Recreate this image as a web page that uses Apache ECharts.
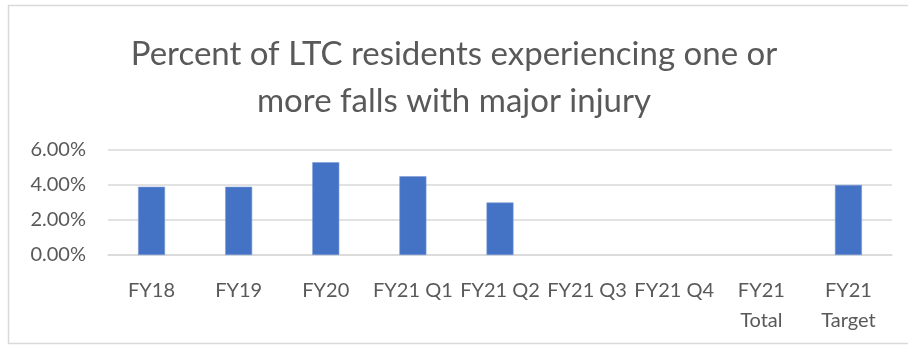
<!DOCTYPE html>
<html>
<head>
<meta charset="utf-8">
<script src="https://cdn.jsdelivr.net/npm/echarts@6/dist/echarts.min.js"></script>
<style>
  html, body { margin: 0; padding: 0; background: #fff; }
  #chart { width: 908px; height: 346px; }
</style>
</head>
<body>
<div id="chart"></div>
<script>
// Fall-injury rate by period (percent of LTC residents)
var categories = ['FY18', 'FY19', 'FY20', 'FY21 Q1', 'FY21 Q2', 'FY21 Q3', 'FY21 Q4', 'FY21\nTotal', 'FY21\nTarget'];
var fallRates = [3.9, 3.9, 5.3, 4.5, 3.0, null, null, null, 4.0];
var yTicks = { min: 0, max: 6, interval: 2 };

var FONT = 'Lato, "Open Sans", sans-serif';
var TEXT = '#595959';

var chart = echarts.init(document.getElementById('chart'), null, { renderer: 'canvas' });
chart.setOption({
  backgroundColor: '#fff',
  animation: false,
  graphic: [{
    type: 'rect',
    shape: { x: 8.5, y: 5.5, width: 920, height: 338 },
    style: { fill: 'none', stroke: '#d9d9d9', lineWidth: 1.5 },
    silent: true
  }],
  title: {
    text: 'Percent of LTC residents experiencing one or\nmore falls with major injury',
    left: 'center',
    top: 26,
    textStyle: { fontFamily: FONT, fontSize: 33, fontWeight: 'normal', color: TEXT, lineHeight: 47 }
  },
  grid: { left: 108, right: 16, top: 150, bottom: 91, containLabel: false },
  xAxis: {
    type: 'category',
    data: categories,
    axisLine: { show: true, lineStyle: { color: '#d9d9d9', width: 1.5 } },
    axisTick: { show: false },
    axisLabel: {
      interval: 0, margin: 21, color: TEXT, fontFamily: FONT, fontSize: 20, lineHeight: 30,
      verticalAlign: 'top'
    }
  },
  yAxis: {
    type: 'value',
    min: yTicks.min, max: yTicks.max, interval: yTicks.interval,
    axisLine: { show: false },
    axisTick: { show: false },
    splitLine: { lineStyle: { color: '#d9d9d9', width: 1.5 } },
    axisLabel: {
      margin: 22, color: TEXT, fontFamily: FONT, fontSize: 20,
      formatter: function (v) { return v.toFixed(2) + '%'; }
    }
  },
  series: [{
    type: 'bar',
    data: fallRates,
    barWidth: 27,
    itemStyle: { color: '#4472C4', borderColor: '#7b9bd6', borderWidth: 0.6 }
  }]
});
</script>
</body>
</html>
